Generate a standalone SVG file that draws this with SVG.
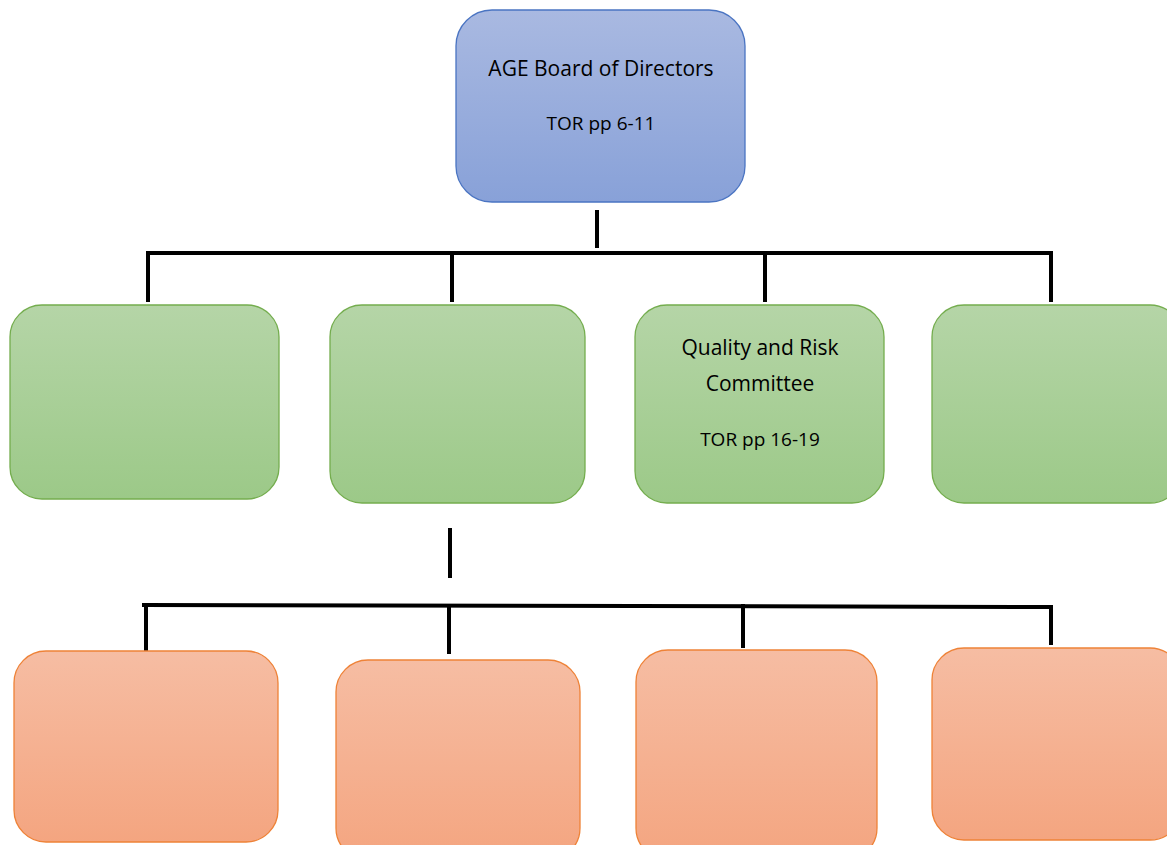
<svg xmlns="http://www.w3.org/2000/svg" width="1167" height="845" viewBox="0 0 1167 845">
<defs>
<linearGradient id="gBlue" x1="0" y1="0" x2="0" y2="1"><stop offset="0" stop-color="#a9b9e1"/><stop offset="1" stop-color="#88a1d8"/></linearGradient>
<linearGradient id="gGreen" x1="0" y1="0" x2="0" y2="1"><stop offset="0" stop-color="#b5d5a7"/><stop offset="1" stop-color="#9cc988"/></linearGradient>
<linearGradient id="gOrange" x1="0" y1="0" x2="0" y2="1"><stop offset="0" stop-color="#f6bda3"/><stop offset="1" stop-color="#f4a580"/></linearGradient>
</defs>
<style>
.blue{fill:url(#gBlue);stroke:#4a74c2;stroke-width:1.3}
.green{fill:url(#gGreen);stroke:#74ad4e;stroke-width:1.3}
.orange{fill:url(#gOrange);stroke:#ee8237;stroke-width:1.3}
.conn line{stroke:#000;stroke-width:4;stroke-linecap:square}
text{font-family:"Open Sans","Liberation Sans",sans-serif;fill:#000;text-anchor:middle}
.t1{font-size:21px}
.t2{font-size:19px}
</style>
<rect width="1167" height="845" fill="#fff"/>
<g id="connectors" class="conn">
<line x1="597" y1="212" x2="597" y2="246"/>
<line x1="148" y1="253" x2="1051" y2="253"/>
<line x1="148" y1="253" x2="148" y2="300"/>
<line x1="452" y1="253" x2="452" y2="300"/>
<line x1="765" y1="253" x2="765" y2="300"/>
<line x1="1051" y1="253" x2="1051" y2="300"/>
<line x1="450" y1="530" x2="450" y2="576"/>
<line x1="144" y1="605" x2="1051" y2="607"/>
<line x1="146" y1="605" x2="146" y2="649"/>
<line x1="449" y1="606" x2="449" y2="652"/>
<line x1="743" y1="606" x2="743" y2="646"/>
<line x1="1051" y1="607" x2="1051" y2="643"/>
</g>
<g id="board">
<rect class="blue" x="456" y="10" width="289" height="192" rx="36"/>
<text class="t1" x="601" y="76">AGE Board of Directors</text>
<text class="t2" x="601" y="130">TOR pp 6-11</text>
</g>
<g id="committee1"><rect class="green" x="10" y="305" width="269" height="194" rx="32"/></g>
<g id="committee2"><rect class="green" x="330" y="305" width="255" height="198" rx="32"/></g>
<g id="committee3">
<rect class="green" x="635" y="305" width="249" height="198" rx="32"/>
<text class="t1" x="760" y="355">Quality and Risk</text>
<text class="t1" x="760" y="391">Committee</text>
<text class="t2" x="760" y="446">TOR pp 16-19</text>
</g>
<g id="committee4"><rect class="green" x="932" y="305" width="250" height="198" rx="32"/></g>
<g id="sub1"><rect class="orange" x="14" y="651" width="264" height="191" rx="32"/></g>
<g id="sub2"><rect class="orange" x="336" y="660" width="244" height="200" rx="32"/></g>
<g id="sub3"><rect class="orange" x="636" y="650" width="241" height="210" rx="32"/></g>
<g id="sub4"><rect class="orange" x="932" y="648" width="250" height="192" rx="32"/></g>
</svg>
